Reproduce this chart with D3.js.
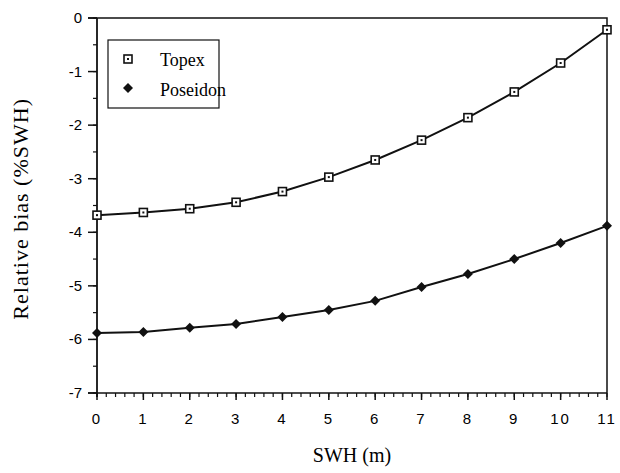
<!DOCTYPE html>
<meta charset="utf-8">
<script src="https://d3js.org/d3.v7.min.js"></script>
<style>
  body { margin: 0; background: #fff; }
</style>
<body>
<div id="chart"></div>
</body>
<script>
// data
var swh = [0, 1, 2, 3, 4, 5, 6, 7, 8, 9, 10, 11];
var topex = [-3.68, -3.63, -3.56, -3.44, -3.24, -2.97, -2.65, -2.28, -1.86, -1.38, -0.84, -0.22];
var poseidon = [-5.88, -5.86, -5.78, -5.71, -5.58, -5.45, -5.28, -5.02, -4.78, -4.50, -4.20, -3.88];
var xTicks = [0, 1, 2, 3, 4, 5, 6, 7, 8, 9, 10, 11];
var yTicks = [0, -1, -2, -3, -4, -5, -6, -7];

var W = 620, H = 473;
var margin = { top: 18, right: 13, bottom: 80, left: 97 },
    width = W - margin.left - margin.right,
    height = H - margin.top - margin.bottom;

var svg = d3.select("#chart").append("svg")
    .attr("width", W).attr("height", H)
    .append("g")
    .attr("transform", "translate(" + margin.left + "," + margin.top + ")");

var x = d3.scaleLinear().domain([0, 11]).range([0, width]);
var y = d3.scaleLinear().domain([-7, 0]).range([height, 0]);

// frame (top and right)
svg.append("path")
    .attr("d", "M-9,0H" + width + "V" + height)
    .attr("fill", "none").attr("stroke", "#111").attr("stroke-width", 1.5);

// x axis: minor ticks every 0.2, major every 1
var xMinor = d3.range(0, 55).map(function(i) { return i * 0.2; }).concat([11]);
var xg = svg.append("g").attr("transform", "translate(0," + height + ")");
xg.append("line").attr("x1", -9).attr("x2", width).attr("stroke", "#111").attr("stroke-width", 1.5);
xg.selectAll(".minor").data(xMinor).enter().append("line")
    .attr("x1", d => x(d)).attr("x2", d => x(d))
    .attr("y1", 0).attr("y2", 4)
    .attr("stroke", "#111").attr("stroke-width", 1.2);
xg.selectAll(".major").data(xTicks).enter().append("line")
    .attr("x1", d => x(d)).attr("x2", d => x(d))
    .attr("y1", 0).attr("y2", 7)
    .attr("stroke", "#111").attr("stroke-width", 1.5);
xg.selectAll(".lab").data(xTicks).enter().append("text")
    .attr("x", d => x(d)).attr("y", 31)
    .attr("text-anchor", "middle")
    .attr("font-family", "Liberation Sans, Arial, sans-serif")
    .attr("font-size", 15)
    .attr("letter-spacing", 2)
    .text(d => d);

// y axis: minor every 0.5
var yMinor = d3.range(0, 15).map(function(i) { return -i * 0.5; });
var yg = svg.append("g");
yg.append("line").attr("y1", 0).attr("y2", height + 4).attr("stroke", "#111").attr("stroke-width", 1.8);
yg.selectAll(".minor").data(yMinor).enter().append("line")
    .attr("x1", -4).attr("x2", 0)
    .attr("y1", d => y(d)).attr("y2", d => y(d))
    .attr("stroke", "#111").attr("stroke-width", 1.2);
yg.selectAll(".major").data(yTicks).enter().append("line")
    .attr("x1", -9).attr("x2", 0)
    .attr("y1", d => y(d)).attr("y2", d => y(d))
    .attr("stroke", "#111").attr("stroke-width", 1.5);
yg.selectAll(".lab").data(yTicks).enter().append("text")
    .attr("x", -15).attr("y", d => y(d) + 5)
    .attr("text-anchor", "end")
    .attr("font-family", "Liberation Sans, Arial, sans-serif")
    .attr("font-size", 15)
    .text(d => d);

// axis titles
svg.append("text")
    .attr("x", x(5.5)).attr("y", height + 69)
    .attr("text-anchor", "middle")
    .attr("font-family", "Liberation Serif, Times New Roman, serif")
    .attr("font-size", 20)
    .text("SWH (m)");
svg.append("text")
    .attr("transform", "translate(" + (-69) + "," + (y(-3.6) - 2) + ") rotate(-90)")
    .attr("text-anchor", "middle")
    .attr("font-family", "Liberation Serif, Times New Roman, serif")
    .attr("font-size", 22)
    .attr("letter-spacing", 1)
    .text("Relative bias (%SWH)");

// lines
var line = d3.line().x((d, i) => x(swh[i])).y(d => y(d));
[topex, poseidon].forEach(function(s) {
    svg.append("path").datum(s)
        .attr("d", line)
        .attr("fill", "none").attr("stroke", "#111").attr("stroke-width", 2);
});

// markers
function squareMark(g, cx, cy) {
    g.append("rect").attr("x", cx - 4).attr("y", cy - 4).attr("width", 8).attr("height", 8)
        .attr("fill", "#fff").attr("stroke", "#111").attr("stroke-width", 1.6);
    g.append("rect").attr("x", cx - 1).attr("y", cy - 1).attr("width", 2).attr("height", 2)
        .attr("fill", "#111");
}
function diamondMark(g, cx, cy) {
    g.append("path")
        .attr("d", "M" + cx + "," + (cy - 5) + "L" + (cx + 5) + "," + cy + "L" + cx + "," + (cy + 5) + "L" + (cx - 5) + "," + cy + "Z")
        .attr("fill", "#111");
}
var mk = svg.append("g");
topex.forEach(function(v, i) { squareMark(mk, x(swh[i]), y(v)); });
poseidon.forEach(function(v, i) { diamondMark(mk, x(swh[i]), y(v)); });

// legend
var lg = svg.append("g").attr("transform", "translate(" + 11 + "," + 22 + ")");
lg.append("rect").attr("width", 111).attr("height", 68)
    .attr("fill", "#fff").attr("stroke", "#111").attr("stroke-width", 1.2);
squareMark(lg, 20, 19);
diamondMark(lg, 20, 48);
lg.append("text").attr("x", 52).attr("y", 26)
    .attr("font-family", "Liberation Serif, Times New Roman, serif").attr("font-size", 18)
    .text("Topex");
lg.append("text").attr("x", 52).attr("y", 56)
    .attr("font-family", "Liberation Serif, Times New Roman, serif").attr("font-size", 18)
    .text("Poseidon");
</script>
